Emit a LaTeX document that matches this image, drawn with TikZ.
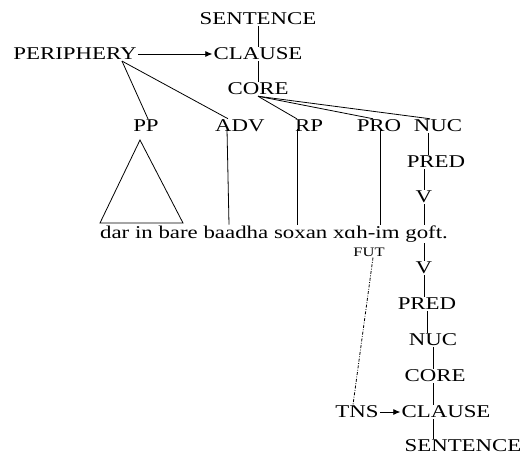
\documentclass[tikz,border=0pt]{standalone}
\usepackage{fontspec}
\setmainfont{Liberation Serif}[FakeStretch=1.27]
\usetikzlibrary{arrows.meta}
\begin{document}
\begin{tikzpicture}[x=1pt,y=-1pt,
  lab/.style={inner sep=1pt,font=\fontsize{18}{20}\selectfont},
  small/.style={inner sep=1pt,font=\fontsize{13}{15}\selectfont},
  ln/.style={line width=0.8pt},
  arr/.style={line width=0.8pt,-{Latex[length=7pt,width=6pt]}},
  dd/.style={line width=0.8pt,dash pattern=on 3pt off 1.5pt on 0.8pt off 1.5pt}]
\useasboundingbox (0,0) rectangle (520,455);
\node[lab] (s1) at (258,19) {SENTENCE};
\node[lab] (c1) at (258,54) {CLAUSE};
\node[lab] (peri) at (75,54) {PERIPHERY};
\node[lab] (core1) at (258,89) {CORE};
\node[lab] (pp) at (146,126) {PP};
\node[lab] (adv) at (240,126) {ADV};
\node[lab] (rp) at (309,126) {RP};
\node[lab] (pro) at (379,126) {PRO};
\node[lab] (nuc1) at (438,126) {NUC};
\node[lab] (pred1) at (436,162) {PRED};
\node[lab] (v1) at (424,197) {V};
\node[lab] (sent) at (274,234) {dar in bare baadha soxan xɑh-im goft.};
\node[small] (fut) at (369,252) {FUT};
\node[lab] (v2) at (424,268) {V};
\node[lab] (pred2) at (427,304) {PRED};
\node[lab] (nuc2) at (433,340) {NUC};
\node[lab] (core2) at (435,376) {CORE};
\node[lab] (c2) at (446,412) {CLAUSE};
\node[lab] (tns) at (357,412) {TNS};
\node[lab] (s2) at (463,446) {SENTENCE};
\coordinate (tl) at (100,223);
\coordinate (tr) at (183,223);
\coordinate (ta) at (140,140);
% top part
\draw[ln] (s1.south) -- (c1.north);
\draw[ln] (c1.south) -- (core1.north);
\draw[arr] (peri.east) -- (c1.west);
\draw[ln] ([xshift=47]peri.south) -- ([xshift=2]pp.north);
\draw[ln] ([xshift=47]peri.south) -- ([xshift=-12]adv.north);
\draw[ln] (core1.south) -- ([xshift=-12]rp.north);
\draw[ln] (core1.south) -- ([xshift=-6]pro.north);
\draw[ln] (core1.south) -- ([xshift=-8]nuc1.north);
\draw[ln] ([xshift=-10]nuc1.south) -- ([xshift=-10]nuc1.south |- pred1.north);
\draw[ln] (v1.north |- pred1.south) -- (v1.north);
\draw[ln] (v1.south) -- (v1.south |- sent.north);
\draw[ln] (tl) -- (ta) -- (tr) -- cycle;
\draw[ln] ([xshift=-13,yshift=4]adv.south) -- ([xshift=-11]adv.south |- sent.north);
\draw[ln] ([xshift=-12,yshift=4]rp.south) -- ([xshift=-12]rp.south |- sent.north);
\draw[ln] ([xshift=1,yshift=4]pro.south) -- ([xshift=1]pro.south |- sent.north);
% bottom part
\draw[ln] (v2.north |- sent.south) -- (v2.north);
\draw[ln] (v2.south) -- (v2.south |- pred2.north);
\draw[ln] (pred2.south) -- (pred2.south |- nuc2.north);
\draw[ln] (nuc2.south) -- (nuc2.south |- core2.north);
\draw[ln] (nuc2.south |- core2.south) -- (nuc2.south |- c2.north);
\draw[ln] (nuc2.south |- c2.south) -- (nuc2.south |- s2.north);
\draw[dd] ([xshift=4]fut.south) -- ([xshift=-4]tns.north);
\draw[arr] (tns.east) -- (c2.west);
\end{tikzpicture}
\end{document}
